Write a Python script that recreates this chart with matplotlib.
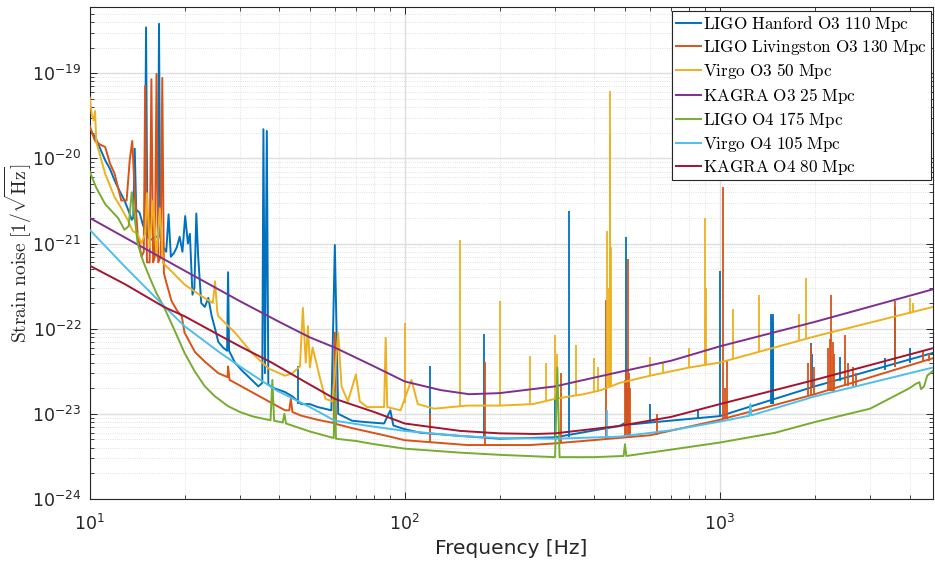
import numpy as np
import matplotlib
matplotlib.use("Agg")
import matplotlib.pyplot as plt
from matplotlib.font_manager import FontProperties
from matplotlib.ticker import FixedLocator, NullFormatter

# ---- LIGO Hanford O3 ----
h1_f = [10.0, 10.2, 10.4, 10.8, 11.2, 11.6, 12.0, 12.5, 12.9, 13.3, 13.6, 13.75, 13.9, 14.05,
        14.4, 14.8, 14.95, 15.1, 15.25, 15.6, 16.2, 16.45, 16.6, 16.75, 17.0, 17.5, 17.8, 18.1,
        18.5, 18.9, 19.3, 19.7, 20.1, 20.5, 20.8, 21.2, 21.5, 21.8, 22.1, 22.6, 23.2, 23.8,
        24.4, 25.0, 25.6, 26.5, 27.3, 27.5, 27.7, 28.9, 30.5, 32.7, 34.3, 35.3, 35.6, 36.0,
        36.5, 36.9, 38.5, 41.7, 44.0, 47.0, 50.0, 53.0, 58.5, 60.0, 61.5, 68.0, 75.0, 86.0,
        90.0, 92.0, 100.0, 112.0, 150.0, 200.0, 300.0, 420.0, 480.0, 500.0, 520.0, 600.0,
        1000.0, 2000.0, 4750.0]
h1_asd = [2.3e-20, 1.95e-20, 1.8e-20, 1.3e-20, 9.5e-21, 7.5e-21, 5.5e-21, 4.0e-21, 3.2e-21, 2.4e-21, 1.9e-21, 2.0e-21, 1.3e-20, 2.5e-21,
          2.3e-21, 1.6e-21, 1.5e-21, 3.45e-19, 1.2e-21, 1.1e-21, 1.2e-21, 1.2e-21, 3.8e-19, 1.2e-21, 9.5e-22, 8e-22, 2.2e-21, 7e-22,
          7.7e-22, 9e-22, 1.2e-21, 8e-22, 2.1e-21, 1e-21, 1.3e-21, 2.5e-22, 3e-22, 2.25e-21, 7e-22, 2e-22, 1.8e-22, 2.3e-22,
          1.4e-22, 1e-22, 7e-23, 6e-23, 5.5e-23, 4.6e-22, 5.5e-23, 4e-23, 3.2e-23, 2.5e-23, 2.1e-23, 2.3e-23, 2.2e-20, 3e-23,
          2.1e-20, 2.2e-23, 2e-23, 1.8e-23, 1.6e-23, 1.3e-23, 1.3e-23, 1.2e-23, 1.1e-23, 9.6e-22, 1e-23, 8.3e-24, 8e-24, 7.7e-24,
          1.1e-23, 7.3e-24, 6.6e-24, 6e-24, 5.5e-24, 5.1e-24, 5.3e-24, 6.6e-24, 7.2e-24, 7.8e-24, 7.5e-24, 7.9e-24,
          9.4e-24, 2.1e-23, 5.2e-23]
h1_line_f = [46, 120, 179, 300, 331.7, 505, 510, 600, 850, 1000, 1450, 1460, 1470, 1480, 1950, 1960, 2400, 3350, 3600, 4000]
h1_line_lo = [1.3e-23, 5.8e-24, 5.3e-24, 5.3e-24, 5.4e-24, 7.6e-24, 7.6e-24, 7.9e-24, 9e-24, 9.4e-24, 1.3e-23, 1.3e-23, 1.3e-23, 1.3e-23,
              2e-23, 2e-23, 2.4e-23, 3.3e-23, 3.6e-23, 4e-23]
h1_line_hi = [3.6e-23, 3.6e-23, 8.7e-23, 1.6e-23, 2.4e-21, 1.2e-21, 2e-23, 1.3e-23, 1.1e-23, 4.7e-22, 1.5e-22, 1.4e-22, 1.5e-22, 1.2e-22,
              6.8e-23, 5e-23, 4.7e-23, 4.5e-23, 1.8e-22, 6e-23]

# ---- LIGO Livingston O3 ----
l1_f = [10.0, 10.4, 10.8, 11.2, 11.6, 12.0, 12.6, 13.1, 13.4, 13.65, 13.9, 14.2, 14.6, 14.85,
        15.0, 15.2, 15.5, 15.7, 15.9, 16.1, 16.3, 16.5, 16.8, 17.0, 17.2, 17.5, 18.2, 19.0,
        19.6, 20.0, 21.6, 23.2, 25.6, 27.4, 27.5, 27.8, 29.0, 32.7, 37.0, 41.7, 43.0, 43.5,
        44.0, 47.0, 53.0, 59.5, 60.0, 60.5, 68.0, 86.0, 100.0, 158.0, 250.0, 300.0, 420.0,
        600.0, 1000.0, 2000.0, 4750.0]
l1_asd = [2.4e-20, 1.6e-20, 1.45e-20, 1.36e-20, 8.7e-21, 6.6e-21, 3.2e-21, 3.2e-21, 9.5e-21, 1.6e-20, 4e-21, 1.3e-21, 7e-22, 8e-22,
          7.1e-20, 6e-22, 6e-22, 8.5e-20, 6e-22, 7e-22, 9.8e-20, 6e-22, 7e-22, 8.8e-20, 4.5e-22, 3.5e-22, 2.1e-22, 1.6e-22,
          1.4e-22, 9e-23, 5.3e-23, 4.1e-23, 3e-23, 2.7e-23, 3.6e-23, 2.5e-23, 2.3e-23, 1.8e-23, 1.4e-23, 1.1e-23, 1.1e-23, 1.5e-23,
          1.05e-23, 9.5e-24, 8.5e-24, 7.8e-24, 9e-23, 7.6e-24, 6.8e-24, 5.6e-24, 4.9e-24, 4.3e-24, 4.3e-24, 4.5e-24, 5e-24,
          5.6e-24, 8.5e-24, 1.7e-23, 4.5e-23]
l1_line_f = [120, 180, 313, 435, 500, 505, 510, 515, 520, 630, 1025, 1035, 1050, 1900, 1950, 1990,
             2200, 2230, 2250, 2280, 2300, 2500, 2550, 2650, 2700, 3600, 4400, 4600]
l1_line_lo = [4.6e-24, 4.3e-24, 4.5e-24, 5e-24, 5.2e-24, 5.2e-24, 5.2e-24, 5.2e-24, 5.2e-24, 5.7e-24, 8.6e-24, 8.6e-24, 8.6e-24,
              1.65e-23, 1.65e-23, 1.65e-23, 1.85e-23, 1.85e-23, 1.85e-23, 1.85e-23, 1.85e-23, 2.1e-23, 2.1e-23, 2.1e-23, 2.1e-23,
              3.5e-23, 4.2e-23, 4.2e-23]
l1_line_hi = [1e-23, 4.1e-23, 3e-23, 2.2e-22, 2.5e-23, 3.3e-23, 6.6e-22, 3e-23, 2e-23, 1e-23, 4.6e-21, 2e-23, 4.3e-23,
              4e-23, 6.5e-23, 3.5e-23, 6e-23, 7.5e-23, 2.5e-22, 7e-23, 5e-23, 8.5e-23, 4e-23, 3.5e-23, 3e-23,
              2.1e-22, 5.5e-23, 5.2e-23]

# ---- Virgo O3 ----
v1_f = [10.0, 10.15, 10.3, 10.4, 10.5, 11.2, 12.0, 12.6, 13.2, 13.7, 14.2, 14.6, 15.0, 15.2,
        15.5, 15.9, 16.3, 16.7, 17.1, 18.2, 20.0, 22.7, 24.6, 25.0, 25.4, 25.6, 29.0, 32.7,
        37.0, 41.7, 44.0, 46.5, 47.5, 48.5, 49.3, 50.0, 51.0, 54.0, 56.0, 59.0, 61.5, 63.0,
        66.0, 70.0, 72.0, 76.0, 86.0, 87.0, 88.0, 97.0, 105.0, 110.0, 124.0, 158.0, 200.0,
        255.0, 300.0, 370.0, 420.0, 480.0, 600.0, 800.0, 1000.0, 2000.0, 4750.0]
v1_asd = [5.2e-20, 3.3e-20, 2.8e-20, 3.6e-20, 1.55e-20, 6.6e-21, 3.5e-21, 2.6e-21, 1.9e-21, 1.4e-21, 1.3e-21, 1e-21, 1.3e-21, 3.9e-21,
          9e-22, 3.2e-21, 7e-22, 2.6e-21, 5.9e-22, 4.7e-22, 3.3e-22, 2.4e-22, 2e-22, 3.6e-22, 1.6e-22, 1.4e-22, 8.9e-23, 5.2e-23,
          3.4e-23, 2.8e-23, 3e-23, 3.6e-23, 1.75e-22, 4e-23, 1.07e-22, 3.5e-23, 6e-23, 2.5e-23, 1.5e-23, 1.4e-23, 9e-23, 2.1e-23,
          1.4e-23, 2.9e-23, 1.4e-23, 1.2e-23, 1.2e-23, 7.8e-23, 1.2e-23, 1.1e-23, 2.5e-23, 1.3e-23, 1.15e-23, 1.25e-23, 1.25e-23,
          1.3e-23, 1.5e-23, 1.7e-23, 1.9e-23, 2.3e-23, 2.8e-23, 3.5e-23, 4e-23, 8.1e-23, 1.8e-22]
v1_line_f = [100, 150, 200, 250, 280, 300, 305, 350, 400, 410, 440, 444, 447, 449, 452, 600, 660, 800,
             895, 900, 905, 1100, 1335, 1790, 1880, 4000, 4100]
v1_line_lo = [1.35e-23, 1.2e-23, 1.25e-23, 1.3e-23, 1.4e-23, 1.5e-23, 1.5e-23, 1.6e-23, 1.8e-23, 1.8e-23, 2.1e-23, 2.1e-23,
              2.1e-23, 2.1e-23, 2.1e-23, 2.8e-23, 3e-23, 3.5e-23, 3.7e-23, 3.7e-23, 3.7e-23, 4.4e-23, 5.3e-23, 7.3e-23,
              7.7e-23, 1.5e-22, 1.55e-22]
v1_line_hi = [1.15e-22, 1.1e-21, 2.1e-22, 4.8e-23, 4e-23, 8.5e-23, 5e-23, 6.5e-23, 4.5e-23, 3.5e-23, 1.4e-21, 3e-22,
              6.2e-20, 2e-20, 9e-22, 4.6e-23, 4e-23, 6e-23, 1.5e-22, 2e-21, 3e-22, 1.7e-22, 2.5e-22, 1.5e-22,
              3.9e-22, 2.3e-22, 2e-22]

# ---- KAGRA O3 ----
k3_f = [10, 20, 30, 40, 50, 60, 80, 100, 130, 160, 200, 300, 480, 700, 1000, 2000, 4750]
k3_asd = [2e-21, 4.8e-22, 2.1e-22, 1.2e-22, 7.9e-23, 6e-23, 3.6e-23, 2.4e-23, 1.9e-23, 1.7e-23, 1.75e-23,
          2.1e-23, 3.1e-23, 4.2e-23, 6.2e-23, 1.2e-22, 2.9e-22]

# ---- LIGO O4 ----
l4_f = [10.0, 10.5, 11.2, 12.3, 12.9, 13.3, 13.6, 13.9, 14.2, 14.8, 15.5, 16.3, 17.2, 18.5, 20.0,
        21.5, 23.2, 25.0, 27.5, 30.0, 33.0, 37.5, 38.0, 38.5, 41.0, 41.5, 42.0, 50.0, 59.5, 60.0,
        60.5, 70.0, 80.0, 100.0, 150.0, 200.0, 300.0, 305.0, 310.0, 400.0, 495.0, 500.0, 505.0,
        700.0, 1000.0, 1500.0, 2000.0, 3000.0, 4000.0, 4190.0, 4300.0, 4350.0, 4450.0, 4550.0, 4750.0]
l4_asd = [7e-21, 4.5e-21, 2.9e-21, 2e-21, 1.45e-21, 1.6e-21, 4e-21, 2e-21, 1e-21, 6.1e-22, 4e-22, 2.6e-22, 1.8e-22, 1e-22, 5.2e-23,
          3.2e-23, 2.1e-23, 1.6e-23, 1.23e-23, 1.05e-23, 9.3e-24, 8.4e-24, 2.5e-23, 8.3e-24, 7.9e-24, 1e-23, 7.7e-24, 6.2e-24, 5.2e-24, 1.8e-23,
          5.1e-24, 4.8e-24, 4.4e-24, 3.9e-24, 3.5e-24, 3.3e-24, 3.1e-24, 3.5e-23, 3.1e-24, 3.1e-24, 3.2e-24, 4.4e-24, 3.2e-24,
          3.8e-24, 4.6e-24, 6e-24, 8e-24, 1.15e-23, 2e-23, 2.25e-23, 2.35e-23, 1.95e-23, 2.1e-23, 2.8e-23, 3.2e-23]

# ---- Virgo O4 ----
v4_f = [10, 12.9, 17.2, 20, 25.6, 30, 39, 50, 60, 77, 100, 150, 200, 300, 480, 700, 1000, 1240, 1250, 1260, 2000, 4750]
v4_asd = [1.45e-21, 5.4e-22, 1.85e-22, 1.07e-22, 5.4e-23, 3.6e-23, 1.9e-23, 1.2e-23, 8.3e-24, 7.2e-24, 6.3e-24, 5.5e-24,
          5.2e-24, 5.1e-24, 5.4e-24, 6.4e-24, 8.1e-24, 9.5e-24, 1.3e-23, 9.6e-24, 1.6e-23, 3.5e-23]
v4_line_f = [440]
v4_line_lo = [5.3e-24]
v4_line_hi = [1.1e-23]

# ---- KAGRA O4 ----
k4_f = [10, 13, 17.2, 20, 25.6, 30, 37.8, 48, 60, 80, 100, 150, 200, 260, 300, 480, 700, 1000, 2000, 4750]
k4_asd = [5.5e-22, 3.3e-22, 1.8e-22, 1.4e-22, 8.5e-23, 6.2e-23, 4e-23, 2.4e-23, 1.5e-23, 1.05e-23, 7.7e-24, 6.3e-24,
          5.9e-24, 5.8e-24, 5.9e-24, 7.2e-24, 9.2e-24, 1.3e-23, 2.5e-23, 5.9e-23]

labels = ['LIGO Hanford O3 110 Mpc', 'LIGO Livingston O3 130 Mpc', 'Virgo O3 50 Mpc',
          'KAGRA O3 25 Mpc', 'LIGO O4 175 Mpc', 'Virgo O4 105 Mpc', 'KAGRA O4 80 Mpc']
colors = ['#0072BD', '#D95319', '#EDB120', '#7E2F8E', '#77AC30', '#4DBEEE', '#A2142F']

x_major = [10, 100, 1000]
y_major = [1e-24, 1e-23, 1e-22, 1e-21, 1e-20, 1e-19]

curves = [(h1_f, h1_asd, (h1_line_f, h1_line_lo, h1_line_hi)),
          (l1_f, l1_asd, (l1_line_f, l1_line_lo, l1_line_hi)),
          (v1_f, v1_asd, (v1_line_f, v1_line_lo, v1_line_hi)),
          (k3_f, k3_asd, None),
          (l4_f, l4_asd, None),
          (v4_f, v4_asd, (v4_line_f, v4_line_lo, v4_line_hi)),
          (k4_f, k4_asd, None)]

fig = plt.figure(figsize=(9.35, 5.63), dpi=100)
ax = fig.add_axes([0.0959, 0.1137, 0.902, 0.874])

handles = []
for i, (f, asd, lines) in enumerate(curves):
    ln, = ax.plot(f, asd, color=colors[i], lw=1.4, zorder=2 + i)
    handles.append(ln)
    if lines is not None:
        ax.vlines(lines[0], lines[1], lines[2], color=colors[i], lw=1.3, zorder=2 + i)

ax.set_xscale('log')
ax.set_yscale('log')
ax.set_xlim(10, 4750)
ax.set_ylim(1e-24, 6e-19)

# decade ticks only inside the view, minor ticks at 2..9 of each decade
ax.set_xticks(x_major)
ax.set_yticks(y_major)
x_minor = [m * d for d in [10, 100, 1000] for m in range(2, 10) if m * d < 4750]
y_minor = [m * d for d in y_major for m in range(2, 10) if m * d < 6e-19]
ax.xaxis.set_minor_locator(FixedLocator(x_minor))
ax.yaxis.set_minor_locator(FixedLocator(y_minor))
ax.xaxis.set_minor_formatter(NullFormatter())
ax.yaxis.set_minor_formatter(NullFormatter())

ax.grid(which='major', color='0.87', lw=1.0, ls='-')
ax.grid(which='minor', color='0.85', lw=0.6, ls=':')
ax.set_axisbelow(True)

ax.tick_params(which='both', direction='in', top=True, right=True, colors='0.15', labelsize=12.5)
ax.tick_params(which='major', length=5, width=0.7)
ax.tick_params(which='minor', length=3, width=0.6)
ax.tick_params(axis='x', which='major', pad=11)
ax.tick_params(axis='y', which='major', pad=6)
for sp in ax.spines.values():
    sp.set_color('0.15')
    sp.set_linewidth(0.8)

ax.set_xlabel('Frequency [Hz]', fontsize=14.5, color='0.15', labelpad=3)
ax.set_ylabel(r'$\mathrm{Strain\ noise}\ [1/\sqrt{\mathrm{Hz}}]$', fontsize=14,
              color='0.15', math_fontfamily='cm')
ax.yaxis.set_label_coords(-0.066, 0.5)

leg_font = FontProperties(size=12.3, math_fontfamily='cm')
leg = ax.legend(handles, [r'$\mathrm{' + s.replace(' ', r'\ ') + '}$' for s in labels],
                loc='upper right', bbox_to_anchor=(0.997, 0.992), prop=leg_font,
                frameon=True, fancybox=False, framealpha=1, edgecolor='0.15',
                handlelength=1.5, handletextpad=0.12, borderpad=0.2, labelspacing=0.24,
                borderaxespad=0)
leg.get_frame().set_linewidth(0.8)
leg.set_zorder(20)

fig.savefig('out.png', dpi=100)
